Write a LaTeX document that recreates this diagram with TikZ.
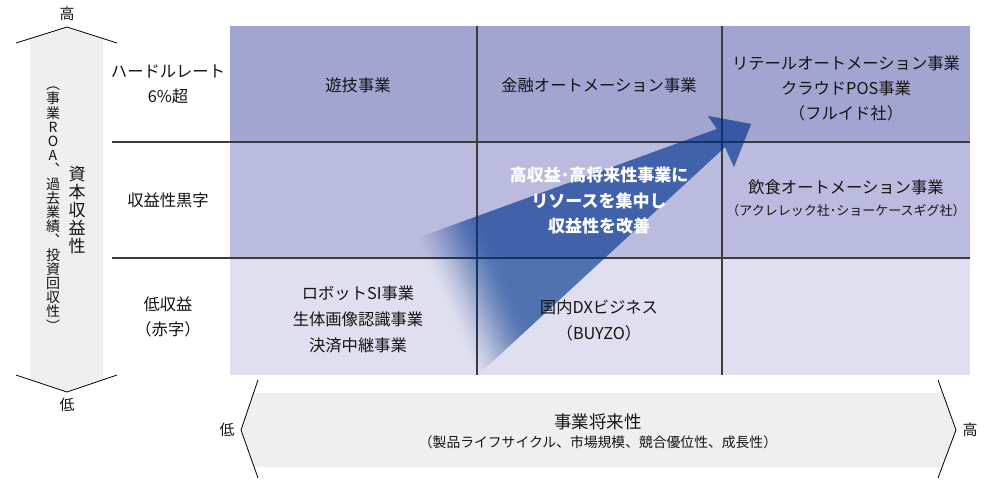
\documentclass[tikz,border=0pt]{standalone}
\usepackage{fontspec}
\setmainfont{Noto Sans CJK JP}
\definecolor{rowA}{RGB}{163,165,209}
\definecolor{rowB}{RGB}{186,187,222}
\definecolor{rowC}{RGB}{223,223,239}
\definecolor{axisgray}{RGB}{239,239,239}
\definecolor{arrowblue}{RGB}{1,53,149}
\definecolor{gridline}{RGB}{60,60,60}
\definecolor{txt}{RGB}{20,20,20}
\begin{document}
\begin{tikzpicture}[x=1pt,y=-1pt,
  lbl/.style={align=center, inner sep=0pt, text=txt, font=\fontsize{16.3}{25}\selectfont},
  small/.style={align=center, inner sep=0pt, text=txt, font=\fontsize{13}{16}\selectfont},
  endlbl/.style={inner sep=0pt, text=txt, font=\fontsize{15}{18}\selectfont},
  chev/.style={draw=black, line width=0.8pt},
  gridrule/.style={draw=gridline, line width=1.1pt}]
\useasboundingbox (0,0) rectangle (991,480);
% rows
\fill[rowA] (230,26) rectangle (970,142);
\fill[rowB] (230,142) rectangle (970,258);
\fill[rowC] (230,258) rectangle (970,375);
% grid rules
\draw[gridrule] (112,142) -- (970,142);
\draw[gridrule] (112,258) -- (970,258);
\draw[gridrule] (477,26) -- (477,375);
\draw[gridrule] (722,26) -- (722,375);
% left axis
\fill[axisgray] (30,38.6) -- (67,27) -- (103,38.5) -- (103,379.8) -- (67,392) -- (30,379.7) -- cycle;
\draw[chev] (16,43) -- (67,27) -- (117,43);
\draw[chev] (16,375) -- (67,392) -- (117,375);
\node[endlbl] (hiL) at (67,14) {高};
\node[endlbl] (loL) at (67,405) {低};
\node[align=center, inner sep=0pt, text=txt, font=\fontsize{17}{18}\selectfont] (axisT) at (77,210) {資\\本\\収\\益\\性};
\node[align=center, inner sep=0pt, text=txt, font=\fontsize{14}{14.2}\selectfont] (axisS) at (53,209) {︵\\事\\業\\R\\O\\A\\︑\\過\\去\\業\\績\\︑\\投\\資\\回\\収\\性\\︶};
% bottom axis
\fill[axisgray] (253.6,393) -- (942.7,393) -- (956,430) -- (942.1,467) -- (254.1,467) -- (241,430) -- cycle;
\draw[chev] (258,380) -- (241,430) -- (258,478);
\draw[chev] (938,380) -- (956,430) -- (938,478);
\node[endlbl] (loB) at (227,430) {低};
\node[endlbl] (hiB) at (970,430) {高};
\node[inner sep=0pt, text=txt, font=\fontsize{17.5}{20}\selectfont] (fut) at (598,422) {事業将来性};
\node[inner sep=0pt, text=txt, font=\fontsize{13.8}{16}\selectfont] (futsub) at (598,442) {（製品ライフサイクル、市場規模、競合優位性、成長性）};
% arrow (faded tail built from layered strips, smooth ramp)
\begin{scope}
\clip (392.7,247) -- (717,129) -- (708,116) -- (751,124) -- (734,167) -- (725,147) -- (473.6,378.9) -- cycle;
\begin{scope}[shift={(442.3,305.1)}, rotate=24]
\foreach \i in {1,...,30} {
  \pgfmathsetmacro\tA{\i/30}
  \pgfmathsetmacro\tB{(\i-1)/30}
  \pgfmathsetmacro\oA{0.6*\tA*\tA*(3-2*\tA)}
  \pgfmathsetmacro\oB{0.6*\tB*\tB*(3-2*\tB)}
  \pgfmathsetmacro\stepop{1-(1-\oA)/(1-\oB)}
  \pgfmathsetmacro\wstart{2.4*(\i-1)}
  \fill[arrowblue, fill opacity=\stepop] (\wstart,-600) rectangle (700,600);
}
\end{scope}
\end{scope}
% row labels
\node[lbl] (hurdle) at (168,84.5) {ハードルレート\\6\%超};
\node[lbl] (kuro) at (168,200) {収益性黒字};
\node[lbl] (low) at (168,316.5) {低収益\\（赤字）};
% cells
\node[lbl] (yugi) at (358,85) {遊技事業};
\node[lbl] (kinyu) at (599,85) {金融オートメーション事業};
\node[lbl] (retail) at (846,88) {リテールオートメーション事業\\クラウドPOS事業\\（フルイド社）};
\node[lbl] (inshoku) at (846,187) {飲食オートメーション事業};
\node[small] (inshokusub) at (846,211) {（アクレレック社･ショーケースギグ社）};
\node[lbl, font=\fontsize{16.3}{26}\selectfont] (robot) at (358,319) {ロボットSI事業\\生体画像認識事業\\決済中継事業};
\node[lbl, font=\fontsize{16.3}{26}\selectfont] (dx) at (599,320) {国内DXビジネス\\（BUYZO）};
\node[align=center, inner sep=0pt, text=white, font=\bfseries\fontsize{17}{25.5}\selectfont] (msg) at (599,201) {高収益･高将来性事業に\\リソースを集中し\\収益性を改善};
\end{tikzpicture}
\end{document}
